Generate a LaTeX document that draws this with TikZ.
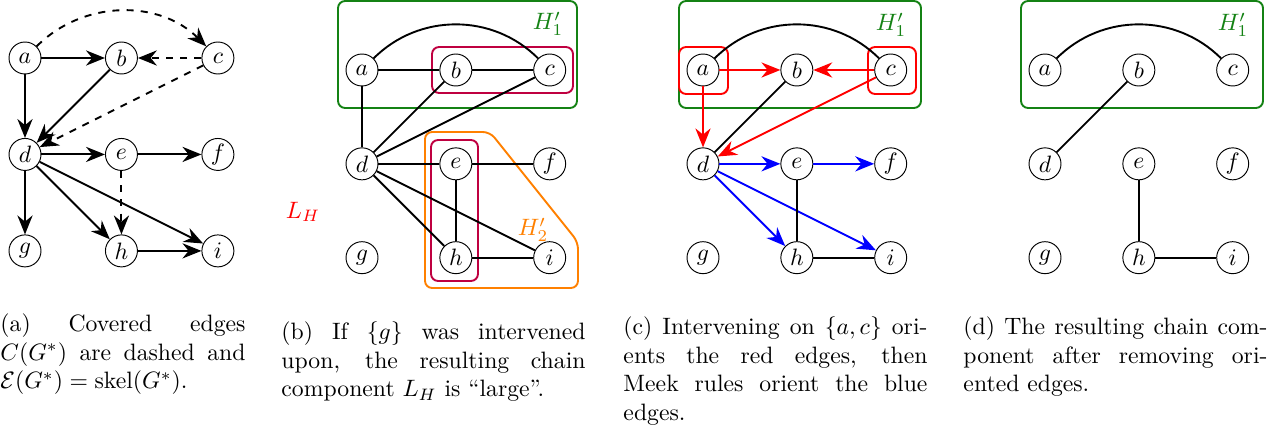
\documentclass[tikz,border=0pt]{standalone}
\usetikzlibrary{arrows.meta}
\definecolor{grpgreen}{RGB}{20,130,20}
\tikzset{
  vtx/.style={draw, circle, thin, minimum size=13.5pt, inner sep=0pt},
  dir/.style={thick, -{Stealth[length=8pt, width=6.4pt, inset=2.6pt]}},
  cov/.style={thick, dashed, -{Stealth[length=8pt, width=6.4pt, inset=2.6pt]}},
  und/.style={thick},
  grp/.style={thick, rounded corners=3pt},
  capt/.style={text width=128.3pt, align=justify, inner sep=0pt, anchor=base west},
}
\begin{document}
\begin{tikzpicture}[x=0.422pt, y=-0.422pt]
        \useasboundingbox (0,0) rectangle (1282,434);

        % (a) the DAG
        \begin{scope}[node distance=40.7pt]
        \node[vtx] (a1) at (25,58) {$a$};
        \node[vtx] (b1) [right of=a1] {$b$};
        \node[vtx] (c1) [right of=b1] {$c$};
        \node[vtx] (d1) [below of=a1] {$d$};
        \node[vtx] (e1) [right of=d1] {$e$};
        \node[vtx] (f1) [right of=e1] {$f$};
        \node[vtx] (g1) [below of=d1] {$g$};
        \node[vtx] (h1) [right of=g1] {$h$};
        \node[vtx] (i1) [right of=h1] {$i$};

        \draw[dir] (a1) -- (b1);
        \draw[dir] (a1) -- (d1);
        \draw[dir] (b1) -- (d1);
        \draw[cov] (c1) -- (b1);
        \draw[cov] (c1) -- (d1);
        \draw[cov] (a1) to[bend left=45] (c1);
        \draw[dir] (d1) -- (e1);
        \draw[dir] (e1) -- (f1);
        \draw[dir] (d1) -- (g1);
        \draw[dir] (d1) -- (h1);
        \draw[dir] (d1) -- (i1);
        \draw[cov] (e1) -- (h1);
        \draw[dir] (h1) -- (i1);
        \end{scope}

        % (b) intervening on g
        \draw[grp, grpgreen] (338,1) rectangle (577,108);
        \draw[grp, purple] (432,47) rectangle (573,93);
        \draw[grp, purple] (431,140) rectangle (478,281);
        \draw[grp, orange] (425,132) -- (490,132) -- (578,242) -- (578,288) -- (425,288) -- cycle;
        \node[text=grpgreen] (H1b) at (548,24) {$H'_1$};
        \node[text=orange] (H2b) at (533,230) {$H'_2$};
        \node[text=red] (LH) at (303,212) {$L_H$};

        \begin{scope}[node distance=39.6pt]
        \node[vtx] (a2) at (362,70) {$a$};
        \node[vtx] (b2) [right of=a2] {$b$};
        \node[vtx] (c2) [right of=b2] {$c$};
        \node[vtx] (d2) [below of=a2] {$d$};
        \node[vtx] (e2) [right of=d2] {$e$};
        \node[vtx] (f2) [right of=e2] {$f$};
        \node[vtx] (g2) [below of=d2] {$g$};
        \node[vtx] (h2) [right of=g2] {$h$};
        \node[vtx] (i2) [right of=h2] {$i$};

        \draw[und] (a2) -- (b2);
        \draw[und] (b2) -- (c2);
        \draw[und] (a2) to[bend left=45] (c2);
        \draw[und] (a2) -- (d2);
        \draw[und] (b2) -- (d2);
        \draw[und] (c2) -- (d2);
        \draw[und] (d2) -- (e2);
        \draw[und] (e2) -- (f2);
        \draw[und] (e2) -- (h2);
        \draw[und] (d2) -- (h2);
        \draw[und] (d2) -- (i2);
        \draw[und] (h2) -- (i2);
        \end{scope}

        % (c) intervening on a, c
        \draw[grp, grpgreen] (679,1) rectangle (921,108);
        \draw[grp, red] (679,47) rectangle (728,94);
        \draw[grp, red] (868,47) rectangle (916,94);
        \node[text=grpgreen] (H1c) at (891,25) {$H'_1$};

        \begin{scope}[node distance=39.6pt]
        \node[vtx] (a3) at (703,70) {$a$};
        \node[vtx] (b3) [right of=a3] {$b$};
        \node[vtx] (c3) [right of=b3] {$c$};
        \node[vtx] (d3) [below of=a3] {$d$};
        \node[vtx] (e3) [right of=d3] {$e$};
        \node[vtx] (f3) [right of=e3] {$f$};
        \node[vtx] (g3) [below of=d3] {$g$};
        \node[vtx] (h3) [right of=g3] {$h$};
        \node[vtx] (i3) [right of=h3] {$i$};

        \draw[und] (a3) to[bend left=45] (c3);
        \draw[dir, red] (a3) -- (b3);
        \draw[dir, red] (c3) -- (b3);
        \draw[dir, red] (a3) -- (d3);
        \draw[dir, red] (c3) -- (d3);
        \draw[und] (b3) -- (d3);
        \draw[dir, blue] (d3) -- (e3);
        \draw[dir, blue] (e3) -- (f3);
        \draw[dir, blue] (d3) -- (h3);
        \draw[dir, blue] (d3) -- (i3);
        \draw[und] (e3) -- (h3);
        \draw[und] (h3) -- (i3);
        \end{scope}

        % (d) what is left
        \draw[grp, grpgreen] (1021,1) rectangle (1263,108);
        \node[text=grpgreen] (H1d) at (1233,25) {$H'_1$};

        \begin{scope}[node distance=39.6pt]
        \node[vtx] (a4) at (1045,70) {$a$};
        \node[vtx] (b4) [right of=a4] {$b$};
        \node[vtx] (c4) [right of=b4] {$c$};
        \node[vtx] (d4) [below of=a4] {$d$};
        \node[vtx] (e4) [right of=d4] {$e$};
        \node[vtx] (f4) [right of=e4] {$f$};
        \node[vtx] (g4) [below of=d4] {$g$};
        \node[vtx] (h4) [right of=g4] {$h$};
        \node[vtx] (i4) [right of=h4] {$i$};

        \draw[und] (a4) to[bend left=45] (c4);
        \draw[und] (b4) -- (d4);
        \draw[und] (e4) -- (h4);
        \draw[und] (h4) -- (i4);
        \end{scope}

        % captions
        \node[capt, text width=103.4pt] (capA) at (0,332)
          {(a) Covered edges\linebreak $C(G^*)$ are dashed and $\mathcal{E}(G^*) = \mathrm{skel}(G^*)$.};
        \node[capt] (capB) at (281,340)
          {(b) If $\{g\}$ was intervened\linebreak upon, the resulting chain\linebreak component $L_H$ is ``large''.};
        \node[capt] (capC) at (623,335)
          {(c) Intervening on $\{a,c\}$ ori-\linebreak ents the red edges, then\linebreak Meek rules orient the blue\linebreak edges.};
        \node[capt] (capD) at (963,335)
          {(d) The resulting chain com-\linebreak ponent after removing ori-\linebreak ented edges.};
        \end{tikzpicture}
\end{document}
